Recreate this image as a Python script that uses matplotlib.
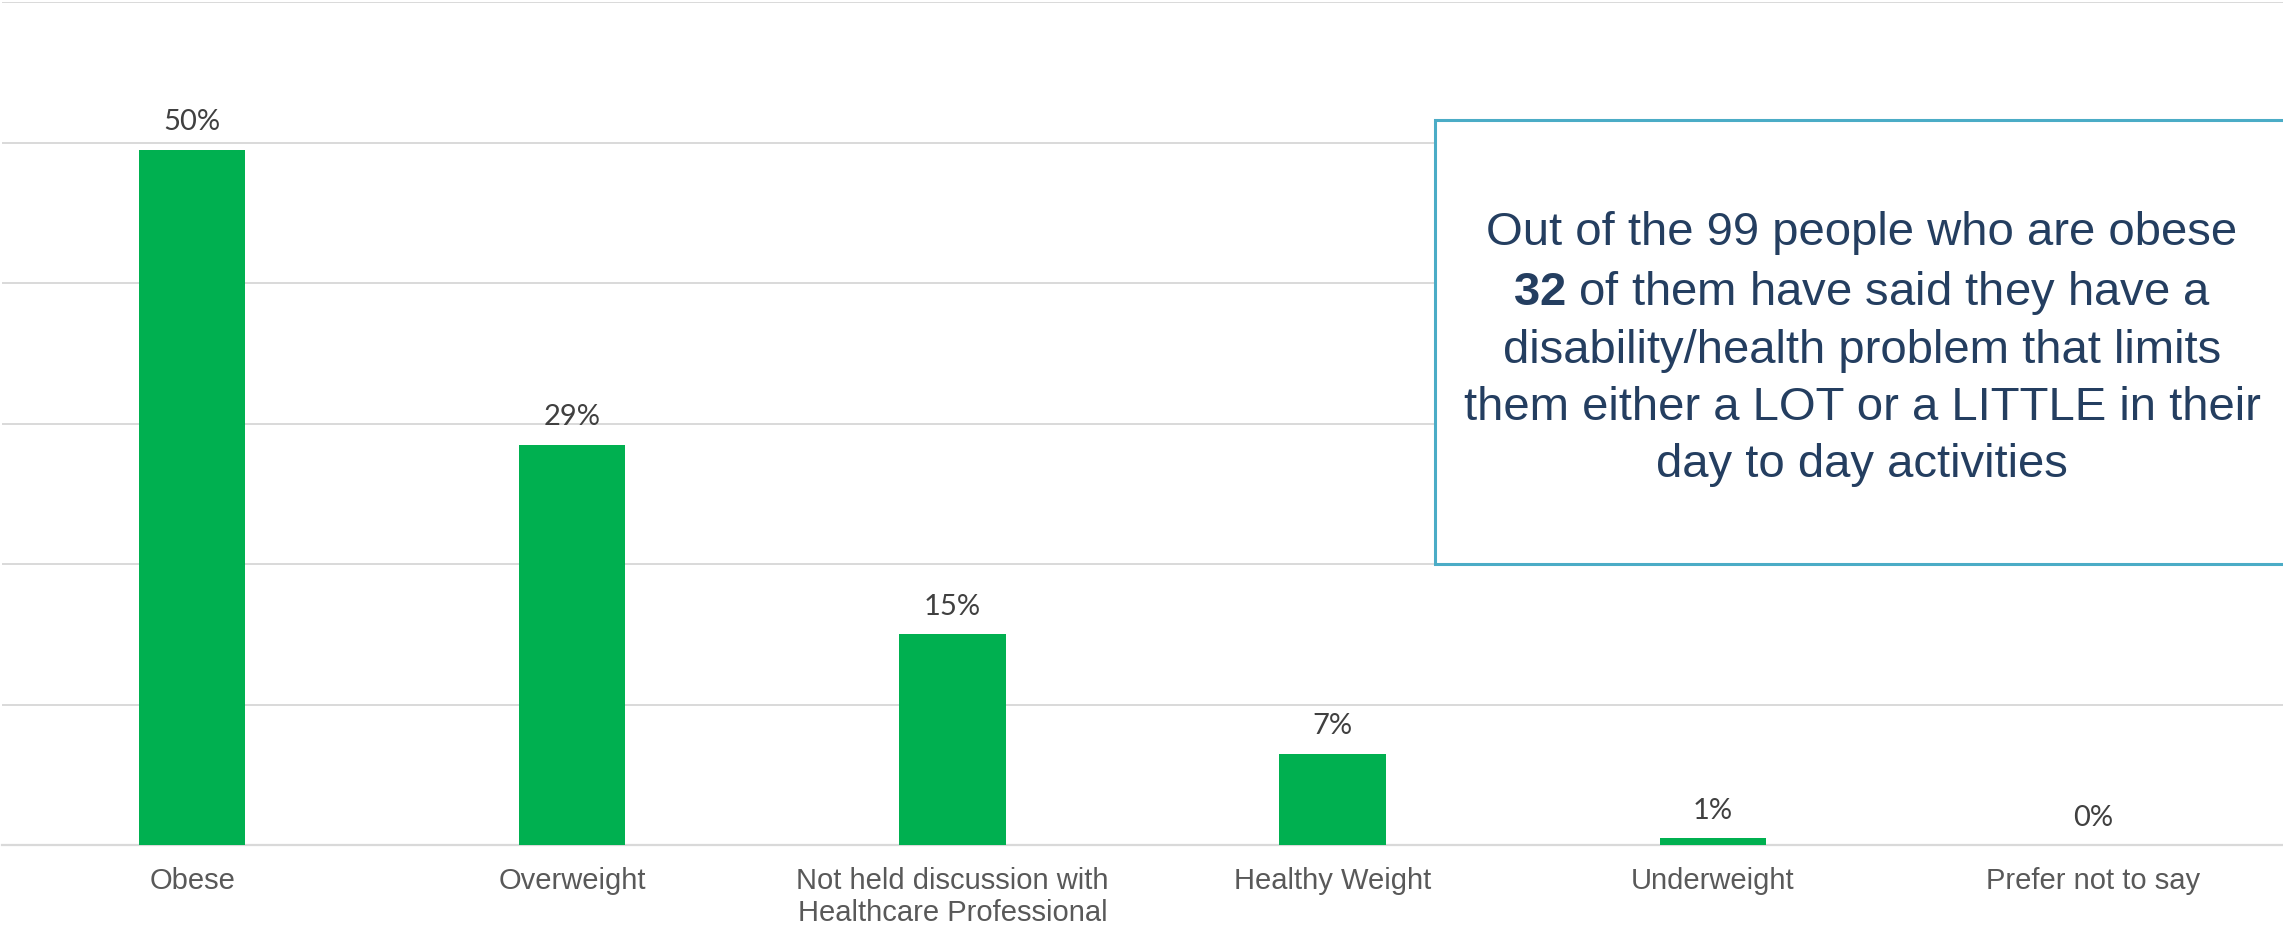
import matplotlib
matplotlib.use("Agg")
import matplotlib.pyplot as plt
import numpy as np
from matplotlib.patches import Rectangle

plt.rcParams["mathtext.fontset"] = "custom"
plt.rcParams["mathtext.rm"] = "Liberation Sans"
plt.rcParams["mathtext.bf"] = "Liberation Sans:bold"

# data (percent of respondents)
categories = ["Obese", "Overweight", "Not held discussion with\nHealthcare Professional",
              "Healthy Weight", "Underweight", "Prefer not to say"]
percent = [49.5, 28.5, 15.0, 6.5, 0.5, 0.0]
note_lines = ["Out of the 99 people who are obese",
              r"$\mathbf{32}$ of them have said they have a",
              "disability/health problem that limits",
              "them either a LOT or a LITTLE in their",
              "day to day activities"]

green = "#00B050"
grid_col = "#D9D9D9"

fig = plt.figure(figsize=(22.83, 9.30), dpi=100)
ax = fig.add_axes([2 / 2283, 85 / 930, 2281 / 2283, (927.5 - 85) / 930])

x = np.arange(len(categories))
ax.bar(x, percent, width=0.28, color=green, zorder=3)

for xi, p in zip(x, percent):
    ax.annotate(f"{int(np.floor(p + 0.5))}%", (xi, p), xytext=(0, 14), textcoords="offset points",
                ha="center", va="baseline", fontsize=21, family="Lato", color="#404040", zorder=4)

ax.set_xlim(-0.5, len(categories) - 0.5)
ax.set_ylim(0, 60)
ax.set_yticks(np.arange(0, 61, 10))
ax.set_yticklabels([])
ax.grid(axis="y", color=grid_col, linewidth=1.4, zorder=0)
ax.set_axisbelow(True)
for s in ["top", "left", "right"]:
    ax.spines[s].set_visible(False)
ax.spines["bottom"].set_color(grid_col)
ax.spines["bottom"].set_linewidth(1.6)
ax.tick_params(axis="y", length=0)
ax.tick_params(axis="x", length=0, pad=16)
ax.set_xticks(x)
ax.set_xticklabels(categories, fontsize=21, family="Liberation Sans", color="#595959", linespacing=1.15)

# call-out box
box = Rectangle((1435 / 2283, 1 - 564 / 930), 0.4, (564 - 120) / 930, transform=fig.transFigure,
                facecolor="white", edgecolor="#4BACC6", linewidth=2.2, zorder=5, clip_on=False)
ax.add_patch(box)
ax.text(1862 / 2283, 1 - 349 / 930, "\n".join(note_lines), transform=fig.transFigure,
        ha="center", va="center", multialignment="center", fontsize=34, family="Liberation Sans",
        color="#243E60", linespacing=1.37, zorder=6)

fig.savefig("out.png", dpi=100)
